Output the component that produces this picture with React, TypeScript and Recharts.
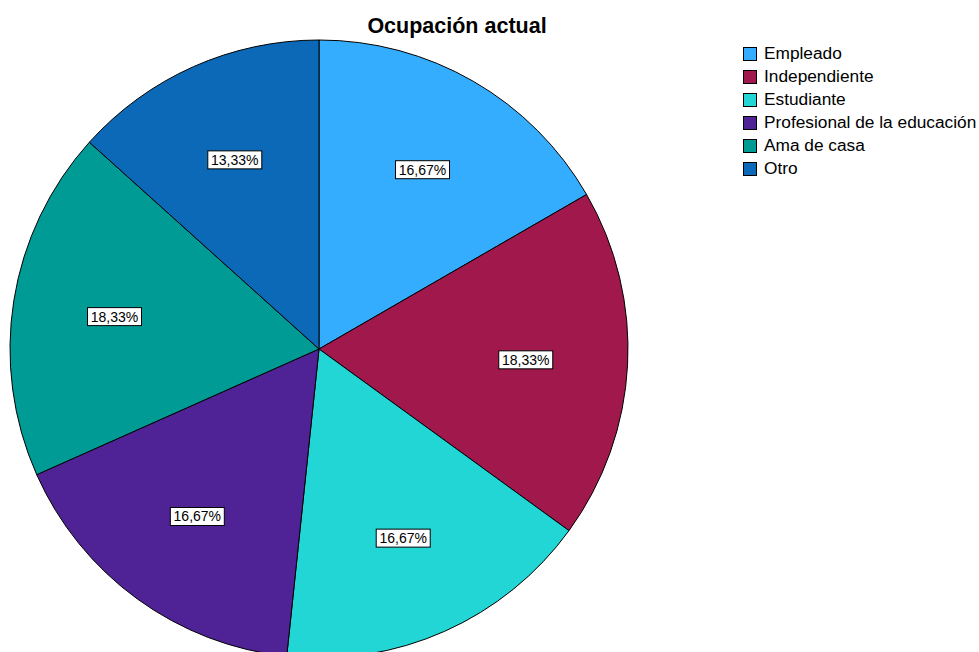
import { PieChart, Pie, Cell, Legend } from 'recharts';

const categories = ['Empleado', 'Independiente', 'Estudiante', 'Profesional de la educación', 'Ama de casa', 'Otro'];
const counts = [10, 11, 10, 10, 11, 8];
const colors = ['#35ADFE', '#A0184C', '#21D6D4', '#4F2395', '#019B96', '#0B69B8'];

const total = counts.reduce((a, b) => a + b, 0);
const data = categories.map((name, i) => ({ name, value: counts[i] }));

const RAD = Math.PI / 180;
const FONT = "'Liberation Sans', Arial, sans-serif";

// eslint-disable-next-line @typescript-eslint/no-explicit-any
const PctLabel = (props: any) => {
  const { cx, cy, midAngle, outerRadius, value } = props;
  const r = outerRadius * 0.67;
  const x = cx + r * Math.cos(-midAngle * RAD);
  const y = cy + r * Math.sin(-midAngle * RAD);
  const txt = ((value / total) * 100).toFixed(2).replace('.', ',') + '%';
  return (
    <g>
      <rect x={x - 27} y={y - 9} width={54} height={18} fill="#fff" stroke="#000" strokeWidth={1} />
      <text x={x} y={y + 5} textAnchor="middle" fontSize={14} fill="#000" fontFamily={FONT}>
        {txt}
      </text>
    </g>
  );
};

const LegendBox = () => (
  <div style={{ fontFamily: FONT, fontSize: 17.3, color: '#000' }}>
    {categories.map((c, i) => (
      <div key={c} style={{ display: 'flex', alignItems: 'center', height: 23, whiteSpace: 'nowrap' }}>
        <span style={{ width: 14, height: 14, background: colors[i], border: '1px solid #000', boxSizing: 'border-box', marginRight: 7 }} />
        <span>{c}</span>
      </div>
    ))}
  </div>
);

export default function App() {
  return (
    <div style={{ position: 'absolute', left: 0, top: 0, width: 979, height: 652, background: '#fff', overflow: 'hidden' }}>
      <PieChart width={979} height={652} margin={{ top: 0, right: 0, bottom: 0, left: 0 }}>
        <text x={457} y={33} textAnchor="middle" fontSize={21.5} fontWeight="bold" fill="#000" fontFamily={FONT}>
          Ocupación actual
        </text>
        <Pie
          data={data}
          dataKey="value"
          nameKey="name"
          cx={319}
          cy={349}
          outerRadius={309}
          startAngle={90}
          endAngle={-270}
          stroke="#000"
          strokeWidth={1}
          label={PctLabel}
          labelLine={false}
          isAnimationActive={false}
        >
          {data.map((d, i) => (
            <Cell key={d.name} fill={colors[i]} />
          ))}
        </Pie>
        <Legend content={<LegendBox />} wrapperStyle={{ left: 743, top: 42, width: 236 }} />
      </PieChart>
    </div>
  );
}
